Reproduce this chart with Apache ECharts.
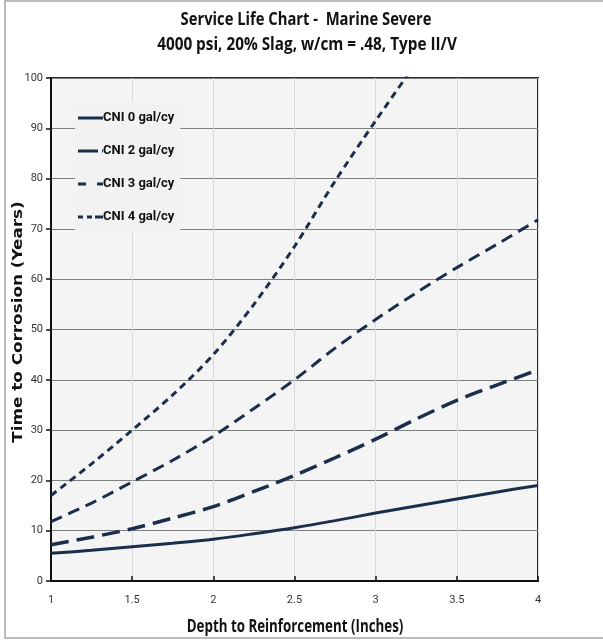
<!DOCTYPE html>
<html>
<head>
<meta charset="utf-8">
<script src="https://cdn.jsdelivr.net/npm/echarts@6/dist/echarts.min.js"></script>
<style>
html,body{margin:0;padding:0;background:#fff;}
#chart{width:603px;height:641px;}
</style>
</head>
<body>
<div id="chart"></div>
<script>
const depth = [1, 1.25, 1.5, 1.75, 2, 2.25, 2.5, 2.75, 3, 3.25, 3.5, 3.75, 4];
const cni0 = [5.5, 6.1, 6.8, 7.5, 8.3, 9.4, 10.6, 12.0, 13.5, 14.9, 16.3, 17.7, 19.0];
const cni2 = [7.2, 8.7, 10.4, 12.5, 14.8, 17.8, 21.0, 24.5, 28.2, 32.2, 35.9, 39.0, 42.0];
const cni3 = [11.8, 15.5, 19.7, 24.0, 28.8, 34.3, 40.0, 46.3, 52.0, 57.3, 62.3, 67.0, 71.8];
const cni4 = [17.0, 23.3, 30.0, 37.0, 45.0, 55.0, 66.5, 79.5, 91.5, 103.0, 114.0, null, null];
const seriesNames = ['CNI 0 gal/cy', 'CNI 2 gal/cy', 'CNI 3 gal/cy', 'CNI 4 gal/cy'];
const titleLines = ['Service Life Chart -  Marine Severe', '4000 psi, 20% Slag, w/cm = .48, Type II/V'];
const xTitle = 'Depth to Reinforcement (Inches)';
const yTitle = 'Time to Corrosion (Years)';

const sansFont = '"Open Sans", sans-serif';
const lineColor = '#1b2f4c';

function pairs(arr) { return depth.map((d, i) => [d, arr[i]]); }

const styles = [
  { width: 3, type: 'solid', icon: 'path://M0,0H25V3H0Z' },
  { width: 3.5, type: [18, 8], icon: 'path://M0,0H20V3H0Z M24,0H25V3H24Z' },
  { width: 3, type: [12, 7], icon: 'path://M0,0H8V3H0Z M19,0H25V3H19Z' },
  { width: 3, type: [7, 5], icon: 'path://M0,0H5V3H0Z M9,0H14V3H9Z M17,0H25V3H17Z' }
];
const values = [cni0, cni2, cni3, cni4];

function hText(text, x, y, size, sx, family) {
  return {
    type: 'text', x: x, y: y, scaleX: sx, silent: true,
    style: {
      text: text, x: 0, y: 0, align: 'center', verticalAlign: 'middle',
      textAlign: 'center', textVerticalAlign: 'middle',
      font: 'bold ' + size + 'px ' + family, fill: '#111'
    }
  };
}

const chart = echarts.init(document.getElementById('chart'), null, { renderer: 'canvas' });
chart.setOption({
  animation: false,
  backgroundColor: '#ffffff',
  graphic: [
    { type: 'rect', shape: { x: 5, y: 1, width: 620, height: 637 }, style: { fill: 'none', stroke: '#a6a6a6', lineWidth: 1.5 }, silent: true, z: -10 },
    hText(titleLines[0], 306, 20, 18, 0.82, sansFont),
    hText(titleLines[1], 307, 45, 18, 0.85, sansFont),
    hText(xTitle, 295, 627, 18, 0.74, sansFont),
    Object.assign(hText(yTitle, 18, 322, 14, 1.2, '"DejaVu Sans", sans-serif'), { rotation: Math.PI / 2 })
  ],
  legend: {
    orient: 'vertical',
    left: 75,
    top: 102,
    padding: [9.5, 6, 9.5, 3],
    itemGap: 20,
    itemWidth: 25,
    itemHeight: 3,
    backgroundColor: '#f2f2f2',
    textStyle: { fontFamily: 'Roboto, sans-serif', fontSize: 13, fontWeight: 'bold', color: '#111', padding: [0, 0, 0, -5] },
    data: seriesNames.map((n, i) => ({ name: n, icon: styles[i].icon, itemStyle: { color: lineColor } }))
  },
  grid: {
    left: 51, right: 65, top: 78, bottom: 60,
    show: true, backgroundColor: '#f4f4f4', borderColor: lineColor, borderWidth: 2
  },
  xAxis: {
    type: 'value', min: 1, max: 4, interval: 0.5,
    axisLine: { show: true, lineStyle: { color: '#111', width: 2 } },
    axisTick: { show: true, inside: true, length: 5, lineStyle: { color: '#111', width: 1.5 } },
    axisLabel: { fontFamily: 'Roboto, sans-serif', fontSize: 11, color: '#333', margin: 14, formatter: v => String(v) },
    splitLine: { show: true, lineStyle: { color: '#d9d9d9', width: 1 } }
  },
  yAxis: {
    type: 'value', min: 0, max: 100, interval: 10,
    axisLine: { show: true, lineStyle: { color: '#111', width: 2 } },
    axisTick: { show: true, inside: false, length: 5, lineStyle: { color: '#111', width: 1.5 } },
    axisLabel: { fontFamily: 'Roboto, sans-serif', fontSize: 11, color: '#333', margin: 8 },
    splitLine: { show: true, lineStyle: { color: '#7f7f7f', width: 1 } }
  },
  series: values.map((v, i) => ({
    name: seriesNames[i],
    type: 'line',
    data: pairs(v),
    smooth: 0.3,
    symbol: 'none',
    clip: true,
    color: lineColor,
    lineStyle: { color: lineColor, width: styles[i].width, type: styles[i].type }
  }))
});
</script>
</body>
</html>
